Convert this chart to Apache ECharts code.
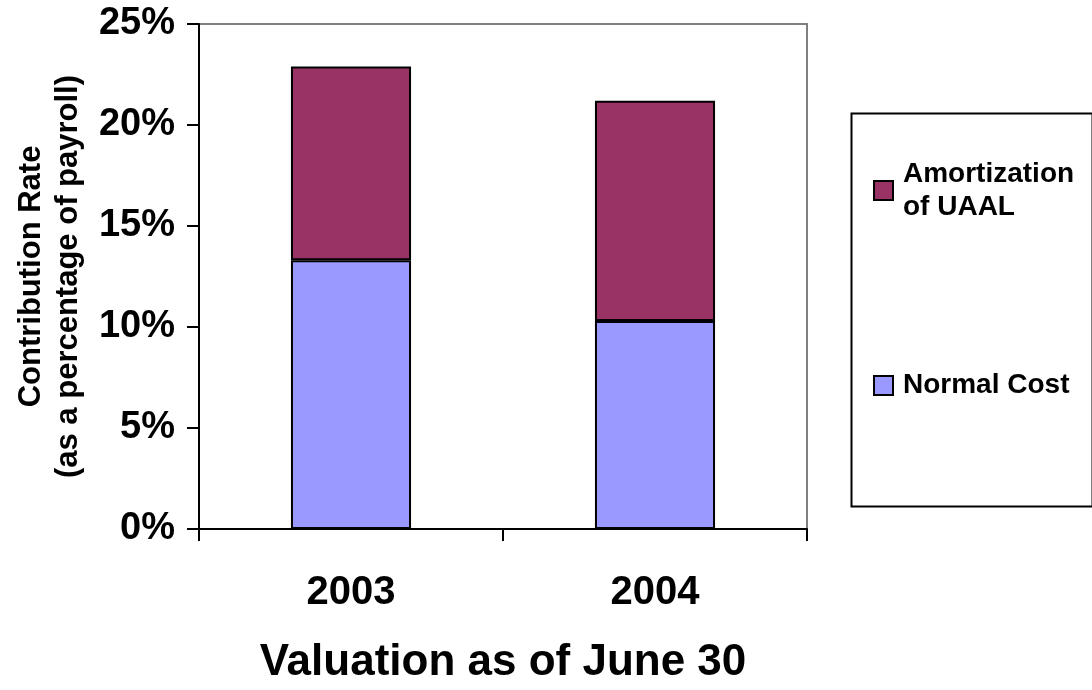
<!DOCTYPE html>
<html>
<head>
<meta charset="utf-8">
<script src="https://cdn.jsdelivr.net/npm/echarts@6/dist/echarts.min.js"></script>
<style>
  html, body { margin: 0; padding: 0; background: #ffffff; }
  #chart { width: 1092px; height: 690px; }
</style>
</head>
<body>
<div id="chart"></div>
<script>
// Contribution rate by valuation year, split into its two components
const years = ['2003', '2004'];
const normalCost = [13.3, 10.3];
const amortization = [9.6, 10.9];
const seriesNames = ['Normal Cost', 'Amortization of UAAL'];
const legendLabels = { 'Amortization of UAAL': 'Amortization\nof UAAL', 'Normal Cost': 'Normal Cost' };
const yAxisTitle = 'Contribution Rate\n(as a percentage of payroll)';
const xAxisTitle = 'Valuation as of June 30';

const FONT = '"Liberation Sans", Arial, sans-serif';
const LEGEND_LINE = 33;

const chart = echarts.init(document.getElementById('chart'), null, { renderer: 'canvas' });

const legendBase = {
  orient: 'vertical',
  left: 873,
  padding: 0,
  itemWidth: 19,
  itemHeight: 19,
  icon: 'rect',
  selectedMode: false,
  formatter: name => legendLabels[name],
  textStyle: {
    fontFamily: FONT,
    fontWeight: 'bold',
    fontSize: 28,
    lineHeight: LEGEND_LINE,
    color: '#000000'
  }
};

chart.setOption({
  animation: false,
  backgroundColor: '#ffffff',
  grid: {
    left: 199,
    right: 285,
    top: 24,
    bottom: 155,
    show: true,
    borderColor: '#808080',
    borderWidth: 2,
    backgroundColor: 'transparent'
  },
  legend: [
    Object.assign({}, legendBase, {
      top: 141,
      data: [{ name: seriesNames[1], textStyle: { padding: [LEGEND_LINE, 0, 0, 5] } }]
    }),
    Object.assign({}, legendBase, {
      top: 369,
      data: [{ name: seriesNames[0], textStyle: { padding: [0, 0, 0, 5] } }]
    })
  ],
  xAxis: {
    type: 'category',
    data: years,
    name: xAxisTitle,
    nameLocation: 'middle',
    nameGap: 112,
    nameTextStyle: { fontFamily: FONT, fontWeight: 'bold', fontSize: 44, color: '#000000' },
    axisLine: { show: true, lineStyle: { color: '#000000', width: 2 } },
    axisTick: { show: true, alignWithLabel: false, interval: 0, length: 12, lineStyle: { color: '#000000', width: 2 } },
    axisLabel: { fontFamily: FONT, fontWeight: 'bold', fontSize: 40, color: '#000000', margin: 44 },
    splitLine: { show: false }
  },
  yAxis: {
    type: 'value',
    min: 0,
    max: 25,
    interval: 5,
    name: yAxisTitle,
    nameLocation: 'middle',
    nameRotate: 90,
    nameGap: 112,
    nameTextStyle: { fontFamily: FONT, fontWeight: 'bold', fontSize: 31, lineHeight: 37, color: '#000000', align: 'center' },
    axisLine: { show: true, lineStyle: { color: '#000000', width: 2 } },
    axisTick: { show: true, length: 12, lineStyle: { color: '#000000', width: 2 } },
    axisLabel: { formatter: '{value}%', fontFamily: FONT, fontWeight: 'bold', fontSize: 38, color: '#000000', margin: 24 },
    splitLine: { show: false }
  },
  series: [
    {
      name: seriesNames[0],
      type: 'bar',
      stack: 'rate',
      data: normalCost,
      barWidth: '39.5%',
      itemStyle: { color: '#9999ff', borderColor: '#000000', borderWidth: 2 }
    },
    {
      name: seriesNames[1],
      type: 'bar',
      stack: 'rate',
      data: amortization,
      barWidth: '39.5%',
      itemStyle: { color: '#993366', borderColor: '#000000', borderWidth: 2 }
    }
  ],
  graphic: [
    {
      type: 'rect',
      left: 849,
      top: 111,
      shape: { width: 241, height: 393 },
      style: { fill: 'none', stroke: '#000000', lineWidth: 2 },
      z: 0
    }
  ]
});
</script>
</body>
</html>
